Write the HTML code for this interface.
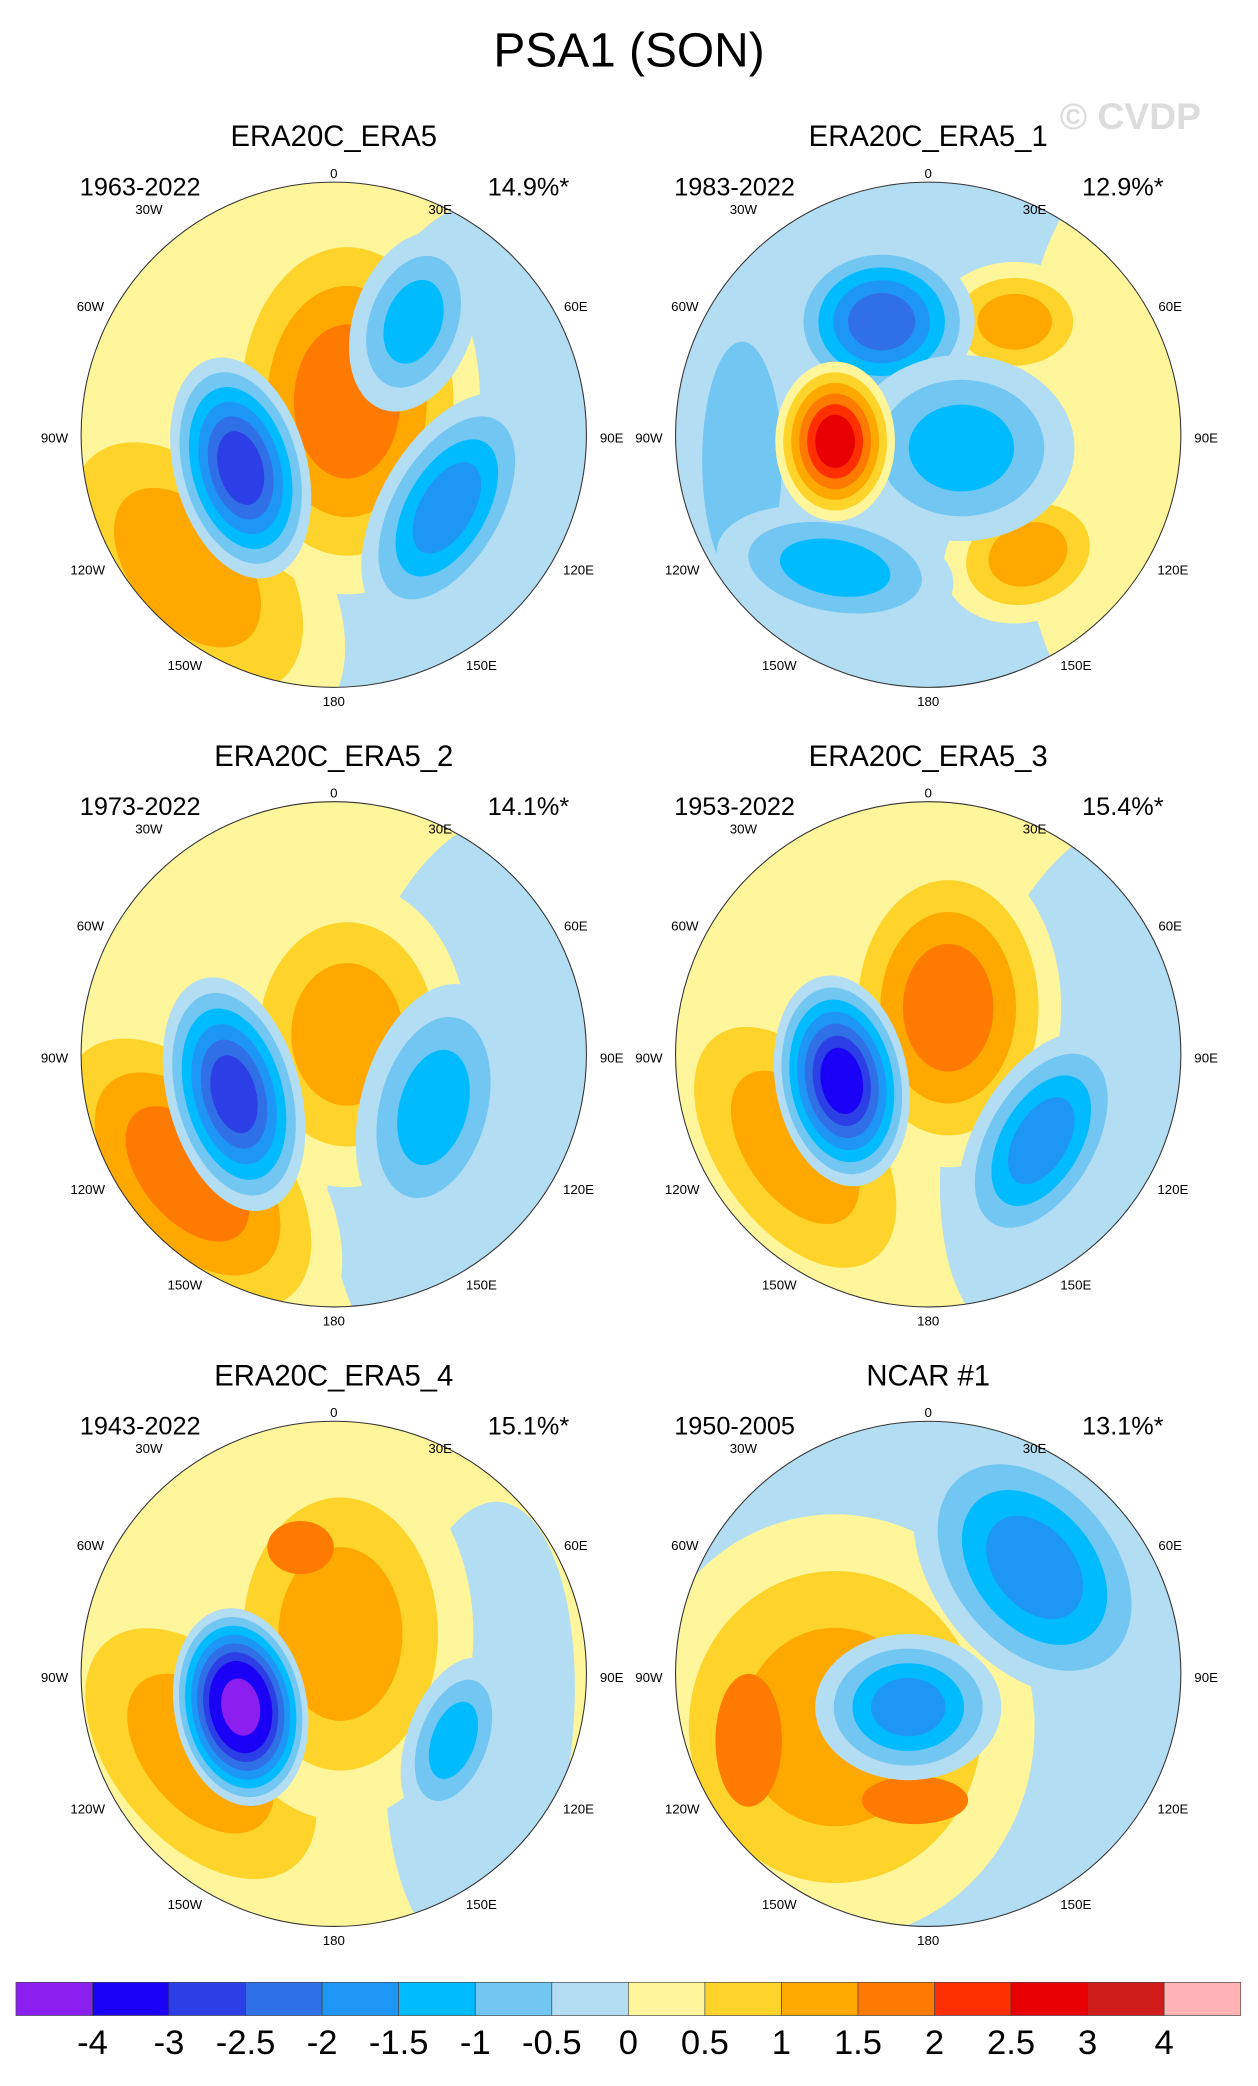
<!DOCTYPE html>
<html><head><meta charset="utf-8"><style>
html,body{margin:0;padding:0;background:#fff}
svg{display:block;font-family:"Liberation Sans",sans-serif}
</style></head><body>
<svg id="chart" width="1258" height="2086" viewBox="0 0 946 1569" preserveAspectRatio="none" xmlns="http://www.w3.org/2000/svg">
<text x="473" y="50" font-size="36" text-anchor="middle">PSA1 (SON)</text>
<text x="850" y="97" font-size="28" font-weight="bold" fill="#dcdcdc" text-anchor="middle">© CVDP</text>
<g id="panels"></g>
<g id="cbar"></g>
</svg>
<script>
const levels=[-4,-3,-2.5,-2,-1.5,-1,-0.5,0,0.5,1,1.5,2,2.5,3,4];
const colors=["#8a1ff0","#1a00f5","#2c3fe6","#3070e6","#1e96f5","#00bcff","#72c6f2","#b3ddf2","#fff59a","#ffd42a","#ffa800","#ff7a00","#ff2f00","#e80000","#d11c1c","#ffb3b3"];
const titles=["ERA20C_ERA5","ERA20C_ERA5_1","ERA20C_ERA5_2","ERA20C_ERA5_3","ERA20C_ERA5_4","NCAR #1"];
const years=["1963-2022","1983-2022","1973-2022","1953-2022","1943-2022","1950-2005"];
const pcts=["14.9%*","12.9%*","14.1%*","15.4%*","15.1%*","13.1%*"];
const bases=[0.25,-0.25,0.25,0.25,0.25,-0.25];
// blobs: [dx,dy,rx,ry,rot,peak,skipLevels] relative to panel centre; peak = outer bound of innermost shaded interval
const blobs0=[[95,30,110,210,10,-0.5,0],[-110,100,90,150,-40,1.5,0],[10,-25,100,145,0,2,0],[60,-85,45,70,20,-1.5,0],[85,55,50,95,30,-2,0],[-70,25,50,85,-15,-3,0]];
const blobs1=[[145,10,80,210,0,0.5,0],[65,-85,60,45,0,1.5,0],[75,90,65,50,-20,1.5,0],[-140,20,50,150,0,-1,0],[-35,-85,70,60,0,-2.5,0],[25,10,85,70,0,-1.5,0],[-70,100,90,45,10,-1.5,0],[-70,5,45,60,0,3,0]];
const blobs2=[[100,30,100,210,10,-0.5,0],[-110,90,85,150,-40,2,0],[10,-15,90,115,0,1.5,0],[75,40,55,95,15,-1.5,0],[-75,30,50,90,-15,-3,0]];
const blobs3=[[110,20,90,200,15,-0.5,0],[-100,70,80,140,-35,1.5,0],[15,-35,85,120,0,2,0],[85,65,50,90,30,-2,0],[-65,20,50,80,-10,-3.5,0]];
const blobs4=[[110,40,70,170,5,-0.5,0],[-100,60,90,150,-40,1.5,0],[5,-30,100,140,0,1.5,0],[-25,-95,25,20,0,2,3],[90,50,35,65,20,-1.5,0],[-70,25,50,75,-10,-4.5,0]];
const blobs5=[[-70,40,150,160,0,1.5,0],[-135,50,25,50,0,2,3],[-10,95,40,18,0,2,3],[80,-80,75,110,-40,-2,0],[-15,25,70,55,0,-2,0]];
const allBlobs=[blobs0,blobs1,blobs2,blobs3,blobs4,blobs5];
const centers=[[251,327],[698,327],[251,793],[698,793],[251,1259],[698,1259]];
const R=190;
const lonLabels=["0","30W","30E","60W","60E","90W","90E","120W","120E","150W","150E","180"];
const lonOff=[[0,-197],[-139,-170],[80,-170],[-183,-97],[182,-97],[-210,2],[209,2],[-185,101],[184,101],[-112,173],[111,173],[0,200]];
const NS="http://www.w3.org/2000/svg";
function colorFor(v){let i=0;while(i<levels.length&&v>=levels[i])i++;return colors[i];}
function mk(t,a){const e=document.createElementNS(NS,t);for(const k in a)e.setAttribute(k,a[k]);return e;}
const panels=document.getElementById('panels');
centers.forEach((c,p)=>{
 const g=mk('g',{});
 
 
 const cp=mk('clipPath',{id:'clip'+p});cp.appendChild(mk('circle',{cx:c[0],cy:c[1],r:R}));g.appendChild(cp);
 const inner=mk('g',{'clip-path':'url(#clip'+p+')'});
 const bg=mk('circle',{cx:c[0],cy:c[1],r:R,fill:colorFor(bases[p])});
 
 
 inner.appendChild(bg);
 allBlobs[p].forEach(b=>{
  const peak=b[5],s=Math.sign(peak),n=Math.round(Math.abs(peak)/0.5),skip=b[6]||0;
  const m=n-skip;
  for(let k=skip+1;k<=n;k++){
   const f=1-(k-skip-1)/m*0.8;
   const val=s*((k-1)*0.5+0.25);
   const e=mk('ellipse',{cx:c[0]+b[0],cy:c[1]+b[1],rx:b[2]*f,ry:b[3]*f,transform:`rotate(${b[4]} ${c[0]+b[0]} ${c[1]+b[1]})`,fill:colorFor(val)});
   
   
   inner.appendChild(e);
  }
 });
 g.appendChild(inner);
 g.appendChild(mk('circle',{cx:c[0],cy:c[1],r:R,fill:'none',stroke:'#333','stroke-width':0.8}));
 const t=mk('text',{x:c[0],y:c[1]-217,'font-size':22,'text-anchor':'middle'});t.textContent=titles[p];
 
 
 g.appendChild(t);
 const y=mk('text',{x:c[0]-191,y:c[1]-180,'font-size':19});y.textContent=years[p];
 
 
 g.appendChild(y);
 const pc=mk('text',{x:c[0]+177,y:c[1]-180,'font-size':19,'text-anchor':'end'});pc.textContent=pcts[p];
 
 
 g.appendChild(pc);
 lonLabels.forEach((l,i)=>{const lt=mk('text',{x:c[0]+lonOff[i][0],y:c[1]+lonOff[i][1]+4,'font-size':10,'text-anchor':'middle'});lt.textContent=l;
  
  
  g.appendChild(lt);});
 panels.appendChild(g);
});
const cb=document.getElementById('cbar');
const x0=12,x1=933,bw=(x1-x0)/colors.length;
colors.forEach((col,i)=>{const r=mk('rect',{x:x0+i*bw,y:1491,width:bw,height:25,fill:col,stroke:'#444','stroke-width':0.5});
 
 
 cb.appendChild(r);});
levels.forEach((l,i)=>{const t=mk('text',{x:x0+(i+1)*bw,y:1545,'font-size':26,'text-anchor':'middle'});t.textContent=l;
 
 
 cb.appendChild(t);});
</script>
</body></html>
